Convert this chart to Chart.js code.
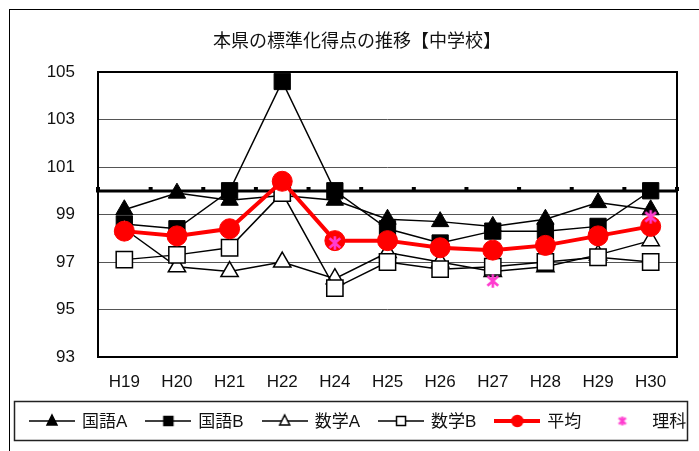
<!DOCTYPE html>
<html>
<head>
<meta charset="utf-8">
<script src="https://cdn.jsdelivr.net/npm/chart.js@4/dist/chart.umd.min.js"></script>
<style>
  html, body { margin: 0; padding: 0; background: #fff; }
  #wrap { width: 699px; height: 451px; position: relative; }
</style>
</head>
<body>
<div id="wrap"><canvas id="c" width="699" height="451"></canvas></div>
<script>
// 年度
const years = ['H19', 'H20', 'H21', 'H22', 'H24', 'H25', 'H26', 'H27', 'H28', 'H29', 'H30'];

// 標準化得点（全国 = 100）
const kokugoA = [99.2, 99.9, 99.6, 99.8, 99.6, 98.8, 98.7, 98.5, 98.8, 99.5, 99.2];
const kokugoB = [98.6, 98.4, 100.0, 104.6, 100.0, 98.4, 97.8, 98.3, 98.3, 98.5, 100.0];
const sugakuA = [98.4, 96.8, 96.6, 97.0, 96.3, 97.4, 97.0, 96.6, 96.8, 97.3, 97.9];
const sugakuB = [97.1, 97.3, 97.6, 99.9, 95.9, 97.0, 96.7, 96.8, 97.0, 97.2, 97.0];
const heikin  = [98.3, 98.1, 98.4, 100.4, 97.9, 97.9, 97.6, 97.5, 97.7, 98.1, 98.5];
const rika    = [null, null, null, null, 97.8, null, null, 96.2, null, null, 98.9];

// 縦軸
const yMin = 93;
const yMax = 105;
const yStep = 2;
const baseValue = 100;

const FONT = '"Liberation Sans", "Noto Sans CJK JP", sans-serif';

// asterisk marker for 理科
function makeAsterisk(size, lw) {
  const cv = document.createElement('canvas');
  cv.width = size; cv.height = size;
  const g = cv.getContext('2d');
  g.strokeStyle = '#ff3ccf';
  g.lineWidth = lw;
  const m = size / 2, a = size / 2 - lw / 2;
  g.beginPath();
  g.moveTo(m, m - a); g.lineTo(m, m + a);
  g.moveTo(m - a * 0.8, m - a * 0.7); g.lineTo(m + a * 0.8, m + a * 0.7);
  g.moveTo(m + a * 0.8, m - a * 0.7); g.lineTo(m - a * 0.8, m + a * 0.7);
  g.stroke();
  return cv;
}

// legend icon: line segment with the series marker in the middle
function makeLegendIcon(spec) {
  const w = 46, h = 20;
  const cv = document.createElement('canvas');
  cv.width = w; cv.height = h;
  const g = cv.getContext('2d');
  const cy = h / 2, cx = w / 2;
  if (spec.line) {
    g.strokeStyle = spec.line;
    g.lineWidth = spec.lineWidth;
    g.beginPath(); g.moveTo(0, cy); g.lineTo(w, cy); g.stroke();
  }
  g.fillStyle = spec.fill;
  g.strokeStyle = spec.stroke;
  g.lineWidth = 1.5;
  g.beginPath();
  if (spec.shape === 'triangle') {
    g.moveTo(cx, cy - 6); g.lineTo(cx + 5, cy + 4); g.lineTo(cx - 5, cy + 4); g.closePath();
    g.fill(); g.stroke();
  } else if (spec.shape === 'rect') {
    g.rect(cx - 4.5, cy - 4.5, 9, 9);
    g.fill(); g.stroke();
  } else if (spec.shape === 'circle') {
    g.arc(cx, cy, 5.5, 0, Math.PI * 2);
    g.fill(); g.stroke();
  } else if (spec.shape === 'star') {
    g.drawImage(makeAsterisk(11, 2.2), cx - 5.5, cy - 5.5);
  }
  return cv;
}

const starPoint = makeAsterisk(16, 2.6);

const legendIcons = [
  makeLegendIcon({ line: '#000', lineWidth: 1.5, shape: 'triangle', fill: '#000', stroke: '#000' }),
  makeLegendIcon({ line: '#000', lineWidth: 1.5, shape: 'rect', fill: '#000', stroke: '#000' }),
  makeLegendIcon({ line: '#000', lineWidth: 1.5, shape: 'triangle', fill: '#fff', stroke: '#000' }),
  makeLegendIcon({ line: '#000', lineWidth: 1.5, shape: 'rect', fill: '#fff', stroke: '#000' }),
  makeLegendIcon({ line: '#ff0000', lineWidth: 4, shape: 'circle', fill: '#ff0000', stroke: '#ff0000' }),
  makeLegendIcon({ line: null, shape: 'star' })
];

// frame, legend, and the horizontal axis crossing at 100
const framePlugin = {
  id: 'frame',
  beforeDraw(chart) {
    const ctx = chart.ctx;
    ctx.save();
    ctx.fillStyle = '#fff';
    ctx.fillRect(0, 0, chart.width, chart.height);
    ctx.strokeStyle = '#000';
    ctx.lineWidth = 1;
    ctx.strokeRect(9.5, 9.5, 720, 460);
    ctx.restore();
  },
  beforeDatasetsDraw(chart) {
    const { ctx, chartArea: a, scales: { x, y } } = chart;
    ctx.save();
    ctx.strokeStyle = '#000';
    ctx.lineWidth = 2;
    ctx.strokeRect(a.left, a.top, a.right - a.left, a.bottom - a.top);
    const yb = Math.round(y.getPixelForValue(baseValue));
    ctx.lineWidth = 3;
    ctx.beginPath();
    ctx.moveTo(a.left - 2, yb); ctx.lineTo(a.right, yb);
    ctx.stroke();
    ctx.fillStyle = '#000';
    const n = x.ticks.length;
    const step = x.getPixelForValue(1) - x.getPixelForValue(0);
    for (let i = 0; i <= n; i++) {
      const xb = x.getPixelForValue(0) - step / 2 + i * step;
      ctx.fillRect(xb - 2, yb - 4, 4, 4);
    }
    ctx.restore();
  },
  afterDraw(chart) {
    const ctx = chart.ctx;
    ctx.save();
    ctx.strokeStyle = '#222';
    ctx.lineWidth = 1.5;
    ctx.strokeRect(14.5, 401.5, 673, 39);
    ctx.font = '17px ' + FONT;
    ctx.fillStyle = '#111';
    ctx.textBaseline = 'middle';
    const cy = 421;
    let xPos = 29;
    chart.data.datasets.forEach((ds, i) => {
      const icon = legendIcons[i];
      ctx.drawImage(icon, xPos, cy - icon.height / 2);
      xPos += icon.width + 7;
      ctx.fillText(ds.label, xPos, cy + 1);
      xPos += ctx.measureText(ds.label).width + 18;
    });
    ctx.restore();
  }
};

const lineBase = { tension: 0, fill: false, clip: false };

new Chart(document.getElementById('c'), {
  type: 'line',
  data: {
    labels: years,
    datasets: [
      { ...lineBase, label: '国語A', data: kokugoA, borderColor: '#000', borderWidth: 1.5,
        pointStyle: 'triangle', pointRadius: 10, pointBackgroundColor: '#000', pointBorderColor: '#000', pointBorderWidth: 1, order: 5 },
      { ...lineBase, label: '国語B', data: kokugoB, borderColor: '#000', borderWidth: 1.5,
        pointStyle: 'rect', pointRadius: 11.5, pointBackgroundColor: '#000', pointBorderColor: '#000', pointBorderWidth: 1, order: 4 },
      { ...lineBase, label: '数学A', data: sugakuA, borderColor: '#000', borderWidth: 1.5,
        pointStyle: 'triangle', pointRadius: 10, pointBackgroundColor: '#fff', pointBorderColor: '#000', pointBorderWidth: 1.5, order: 3 },
      { ...lineBase, label: '数学B', data: sugakuB, borderColor: '#000', borderWidth: 1.5,
        pointStyle: 'rect', pointRadius: 11.5, pointBackgroundColor: '#fff', pointBorderColor: '#000', pointBorderWidth: 1.5, order: 2 },
      { ...lineBase, label: '平均', data: heikin, borderColor: '#ff0000', borderWidth: 4,
        pointStyle: 'circle', pointRadius: 10, pointBackgroundColor: '#ff0000', pointBorderColor: '#ff0000', pointBorderWidth: 1, order: 1 },
      { ...lineBase, label: '理科', data: rika, showLine: false,
        pointStyle: starPoint, pointRadius: 8, order: 0 }
    ]
  },
  options: {
    responsive: false,
    animation: false,
    devicePixelRatio: 1,
    events: [],
    layout: { padding: { left: 37, right: 22, top: 0, bottom: 54.5 } },
    plugins: {
      tooltip: { enabled: false },
      legend: { display: false },
      title: {
        display: true,
        text: '本県の標準化得点の推移【中学校】',
        color: '#111',
        font: { family: FONT, size: 18, weight: 'normal' },
        padding: { top: 31, bottom: 19.4 }
      }
    },
    scales: {
      x: {
        grid: { display: false, drawTicks: false },
        border: { display: false },
        offset: true,
        ticks: { color: '#111', font: { family: FONT, size: 17 }, padding: 15, maxRotation: 0, autoSkip: false },
        afterFit(s) { s.height = 39.5; }
      },
      y: {
        min: yMin,
        max: yMax,
        grid: { color: '#555', lineWidth: 1, drawTicks: false },
        border: { display: false },
        ticks: { stepSize: yStep, color: '#111', font: { family: FONT, size: 17 }, padding: 23 },
        afterFit(s) { s.width = 61; }
      }
    }
  },
  plugins: [framePlugin]
});
</script>
</body>
</html>
